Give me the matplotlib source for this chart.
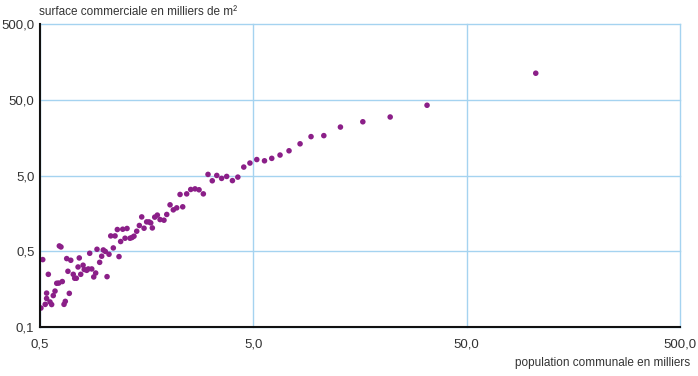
import matplotlib.pyplot as plt

# population communale (milliers) / surface commerciale (milliers de m2)
population = [0.505, 0.515, 0.529, 0.537, 0.537, 0.547, 0.557, 0.567, 0.577, 0.588,
              0.599, 0.612, 0.616, 0.627, 0.636, 0.648, 0.657, 0.667, 0.676, 0.686,
              0.697, 0.716, 0.727, 0.740, 0.754, 0.764, 0.776, 0.796, 0.806, 0.828,
              0.842, 0.855, 0.874, 0.893, 0.912, 0.925, 0.952, 0.973, 0.990, 1.012,
              1.031, 1.053, 1.073, 1.103, 1.124, 1.152, 1.173, 1.194, 1.221, 1.252,
              1.279, 1.321, 1.350, 1.379, 1.420, 1.461, 1.499, 1.537, 1.581, 1.622,
              1.652, 1.681, 1.725, 1.774, 1.827, 1.906, 1.964, 2.035, 2.108, 2.187,
              2.267, 2.333, 2.435, 2.544, 2.665, 2.783, 2.915, 3.066, 3.21, 3.37,
              3.55, 3.75, 3.99, 4.23, 4.51, 4.82, 5.19, 5.64, 6.10, 6.67,
              7.35, 8.28, 9.32, 10.7, 12.8, 16.3, 21.9, 32.6, 105.4]
surface = [0.089, 0.388, 0.0995, 0.140, 0.119, 0.248, 0.107, 0.099, 0.130, 0.149,
           0.189, 0.190, 0.588, 0.570, 0.199, 0.0995, 0.109, 0.400, 0.272, 0.139,
           0.380, 0.248, 0.220, 0.220, 0.310, 0.408, 0.248, 0.327, 0.287, 0.280,
           0.292, 0.470, 0.292, 0.229, 0.258, 0.531, 0.357, 0.430, 0.520, 0.497,
           0.231, 0.456, 0.797, 0.553, 0.797, 0.968, 0.425, 0.672, 0.977, 0.743,
           0.999, 0.743, 0.759, 0.790, 0.919, 1.094, 1.42, 1.007, 1.221, 1.22,
           1.184, 1.016, 1.41, 1.50, 1.31, 1.285, 1.53, 2.05, 1.76, 1.87,
           2.81, 1.93, 2.86, 3.27, 3.33, 3.24, 2.86, 5.17, 4.26, 5.01,
           4.58, 4.86, 4.28, 4.76, 6.46, 7.30, 8.12, 7.82, 8.42, 9.31,
           10.6, 13.1, 16.3, 16.8, 21.8, 25.6, 29.6, 42.3, 112]

x_ticks = [0.5, 5, 50, 500]
x_labels = ['0,5', '5,0', '50,0', '500,0']
y_ticks = [0.05, 0.5, 5, 50, 500]
y_labels = ['0,1', '0,5', '5,0', '50,0', '500,0']

plt.rcParams['font.family'] = ['Liberation Sans', 'DejaVu Sans']

fig = plt.figure(figsize=(6.98, 3.76), dpi=100)
ax = fig.add_axes([40 / 698, 49 / 376, 640 / 698, 303 / 376])

ax.scatter(population, surface, s=16, color='#8b1f88', edgecolors='none', zorder=3)

ax.set_xscale('log')
ax.set_yscale('log')
ax.set_xlim(0.5, 500)
ax.set_ylim(0.05, 500)
ax.set_xticks(x_ticks)
ax.set_xticklabels(x_labels)
ax.set_yticks(y_ticks)
ax.set_yticklabels(y_labels)
ax.minorticks_off()
ax.tick_params(length=0, labelsize=9.5, colors='#333333')
ax.tick_params(axis='x', pad=8)
ax.tick_params(axis='y', pad=4)

ax.grid(True, color='#a5d3f0', linewidth=1)
for gl in ax.get_xgridlines() + ax.get_ygridlines():
    gl.set_clip_on(False)
ax.set_axisbelow(True)

ax.spines['top'].set_visible(False)
ax.spines['right'].set_visible(False)
for s in ['left', 'bottom']:
    ax.spines[s].set_color('#111111')
    ax.spines[s].set_linewidth(1.5)
    ax.spines[s].set_zorder(4)

fig.text(39 / 698, 1 - 12 / 376, 'surface commerciale en milliers de m²',
         fontsize=8.5, color='#333333', ha='left', va='center')
fig.text(690 / 698, 1 - 363 / 376, 'population communale en milliers',
         fontsize=8.5, color='#333333', ha='right', va='center')

fig.savefig('out.png', dpi=100)
